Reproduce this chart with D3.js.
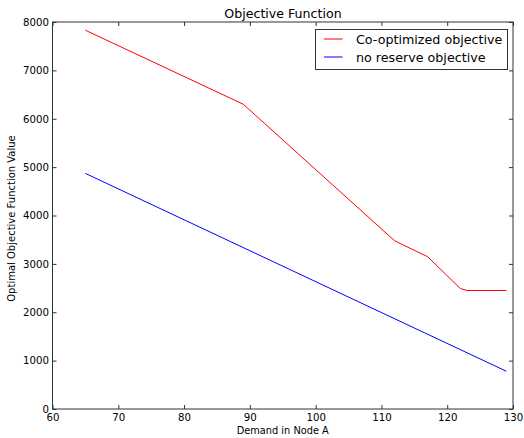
<!DOCTYPE html>
<html>
<head>
<meta charset="utf-8">
<script src="https://cdn.jsdelivr.net/npm/d3@7"></script>
<style>
  body { margin: 0; background: #fff; }
  text { font-family: "DejaVu Sans", sans-serif; fill: #000; }
</style>
</head>
<body>
<svg id="chart" width="524" height="438"></svg>
<script>
// demand (x) and objective values
var coDemand = [65, 89, 111, 112, 113, 117, 122, 123, 129]
var coValue = [7830, 6300, 3600, 3480, 3410, 3150, 2490, 2450, 2450]
var noDemand = [65, 129]
var noValue = [4870, 780]
var xTicks = [60, 70, 80, 90, 100, 110, 120, 130]
var yTicks = [0, 1000, 2000, 3000, 4000, 5000, 6000, 7000, 8000]
var seriesNames = ['Co-optimized objective', 'no reserve objective']
var seriesColors = ['#ff0000', '#0000ff']

var plotL = 52.5, plotR = 513, plotT = 22, plotB = 409
var svg = d3.select('#chart')

var x = d3.scaleLinear().domain([60, 130]).range([plotL, plotR])
var y = d3.scaleLinear().domain([0, 8000]).range([plotB, plotT])

var line = d3.line().x(function(d){ return x(d[0]) }).y(function(d){ return y(d[1]) })

var co = coDemand.map(function(d, i){ return [d, coValue[i]] })
var no = noDemand.map(function(d, i){ return [d, noValue[i]] })

svg.append('path').datum(co).attr('d', line).attr('fill', 'none').attr('stroke', seriesColors[0]).attr('stroke-width', 1)
svg.append('path').datum(no).attr('d', line).attr('fill', 'none').attr('stroke', seriesColors[1]).attr('stroke-width', 1)

// axes (ticks inside, all four sides)
var tk = 4
svg.append('g').attr('transform', 'translate(0,' + plotB + ')')
  .call(d3.axisBottom(x).tickValues(xTicks).tickSize(-tk).tickPadding(5).tickFormat(d3.format('d')))
svg.append('g').attr('transform', 'translate(0,' + plotT + ')')
  .call(d3.axisTop(x).tickValues(xTicks).tickSize(-tk).tickFormat(''))
svg.append('g').attr('transform', 'translate(' + plotL + ',0)')
  .call(d3.axisLeft(y).tickValues(yTicks).tickSize(-tk).tickPadding(3.5).tickFormat(d3.format('d')))
svg.append('g').attr('transform', 'translate(' + plotR + ',0)')
  .call(d3.axisRight(y).tickValues(yTicks).tickSize(-tk).tickFormat(''))

svg.selectAll('.domain').remove()
svg.selectAll('.tick line').attr('stroke', '#333')
svg.selectAll('.tick text').attr('font-size', 10.2).attr('font-family', 'DejaVu Sans').attr('fill', '#111')

svg.append('rect')
  .attr('x', plotL).attr('y', plotT)
  .attr('width', plotR - plotL).attr('height', plotB - plotT)
  .attr('fill', 'none').attr('stroke', '#333').attr('stroke-width', 1)

svg.append('text').attr('x', 283).attr('y', 18)
  .attr('text-anchor', 'middle').attr('font-size', 12.6).text('Objective Function')
svg.append('text').attr('x', (plotL + plotR) / 2).attr('y', 434)
  .attr('text-anchor', 'middle').attr('font-size', 9.8).text('Demand in Node A')
svg.append('text').attr('transform', 'translate(15,' + ((plotT + plotB) / 2 + 3) + ')rotate(-90)')
  .attr('text-anchor', 'middle').attr('font-size', 10).text('Optimal Objective Function Value')

// legend
var lg = svg.append('g')
lg.append('rect').attr('x', 315.5).attr('y', 29.5).attr('width', 192).attr('height', 40)
  .attr('fill', '#fff').attr('stroke', '#333').attr('stroke-width', 1)
seriesNames.forEach(function(n, i){
  var ly = 39 + i * 18
  lg.append('line').attr('x1', 324).attr('x2', 342.5).attr('y1', ly).attr('y2', ly)
    .attr('stroke', seriesColors[i]).attr('stroke-width', 1)
  lg.append('text').attr('x', 356).attr('y', ly + 4.5).attr('font-size', 12.7).text(n)
})
</script>
</body>
</html>
